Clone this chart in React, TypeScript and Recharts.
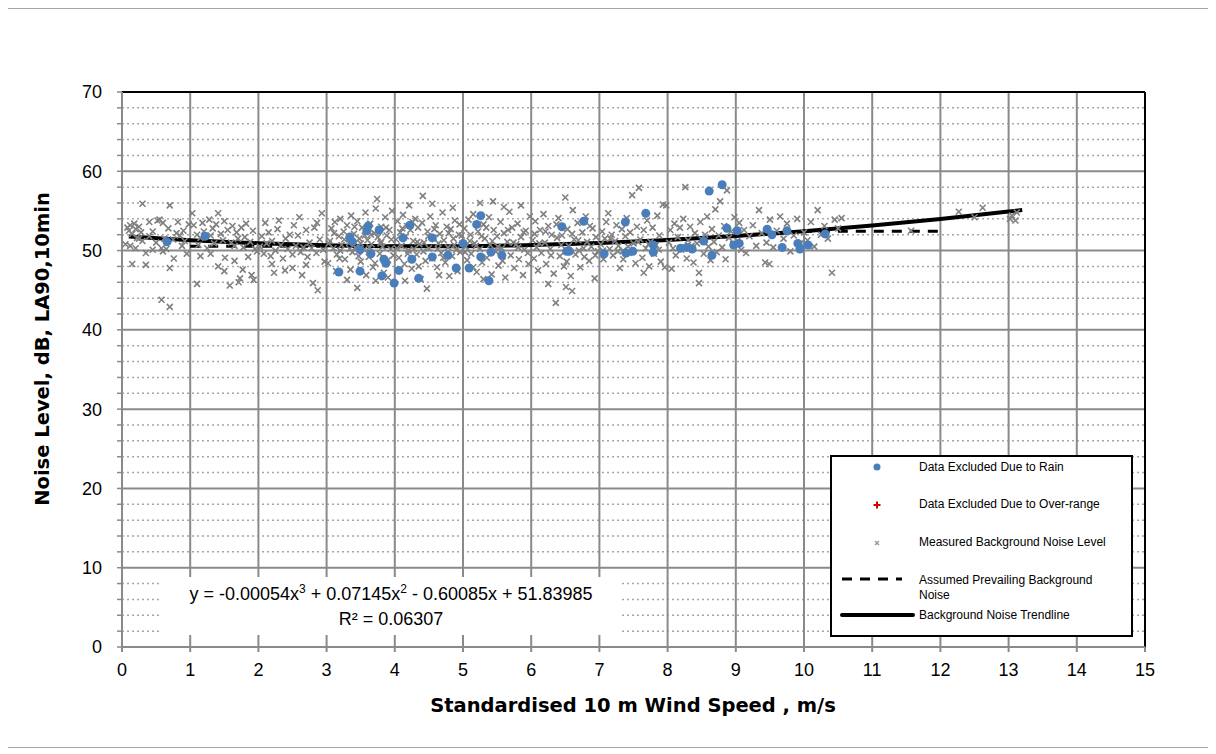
import React from "react";
import {
  ComposedChart,
  Scatter,
  Line,
  XAxis,
  YAxis,
  CartesianGrid,
  ReferenceLine,
} from "recharts";

// wind speed (m/s), LA90 (dB)
const measuredPoints: [number, number][] = [
  [0.08, 52.9], [0.1, 52.5], [0.12, 53.2], [0.15, 52.1], [0.18, 53.4], [0.2, 52.7], [0.22, 51.6], [0.25, 53.0],
  [0.28, 52.3], [0.3, 51.2], [0.05, 50.8], [0.12, 50.6], [0.3, 55.9], [0.15, 48.3], [0.35, 48.2], [0.4, 51.8],
  [0.45, 52.4], [0.5, 51.0], [0.52, 53.8], [0.55, 53.9], [0.58, 50.3], [0.6, 49.9], [0.62, 51.5], [0.65, 50.2],
  [0.68, 52.8], [0.7, 55.7], [0.7, 47.8], [0.75, 51.4], [0.76, 49.0], [0.8, 52.2], [0.82, 53.6], [0.85, 51.9],
  [0.88, 50.6], [0.9, 52.5], [0.92, 51.2], [0.95, 49.6], [0.98, 53.3], [0.58, 43.8], [0.7, 42.9], [0.45, 50.1],
  [0.35, 49.7], [0.2, 50.3], [0.4, 53.6], [0.6, 53.5], [0.25, 51.5],
  [1.03, 54.7], [1.05, 53.2], [1.1, 52.0], [1.12, 50.7], [1.15, 51.6], [1.18, 53.5], [1.2, 52.4], [1.25, 50.3],
  [1.28, 53.9], [1.3, 51.9], [1.33, 52.8], [1.35, 50.9], [1.38, 53.3], [1.41, 54.7], [1.41, 48.0], [1.45, 52.1],
  [1.48, 51.3], [1.5, 53.7], [1.51, 49.1], [1.55, 52.6], [1.58, 45.6], [1.6, 51.0], [1.62, 53.1], [1.65, 50.6],
  [1.68, 52.3], [1.7, 51.5], [1.73, 46.5], [1.75, 52.9], [1.78, 50.4], [1.8, 51.7], [1.82, 53.4], [1.85, 49.2],
  [1.88, 51.1], [1.9, 46.9], [1.92, 52.5], [1.95, 50.2], [1.98, 49.9], [1.1, 45.8], [1.5, 47.4], [1.65, 48.7],
  [1.3, 49.6], [1.15, 49.3], [1.77, 47.6], [1.71, 46.0], [1.93, 46.3],
  [2.02, 50.5], [2.05, 51.8], [2.08, 49.6], [2.1, 53.5], [2.12, 50.9], [2.15, 52.3], [2.18, 49.3], [2.2, 51.2],
  [2.23, 47.2], [2.25, 50.0], [2.28, 52.7], [2.3, 53.8], [2.33, 50.7], [2.36, 49.0], [2.39, 47.5], [2.4, 51.5],
  [2.43, 50.2], [2.46, 52.0], [2.5, 49.5], [2.52, 53.2], [2.55, 50.6], [2.58, 51.9], [2.6, 54.2], [2.62, 49.8],
  [2.64, 46.9], [2.66, 50.4], [2.7, 52.6], [2.72, 49.2], [2.75, 51.0], [2.78, 50.3], [2.8, 45.9], [2.82, 52.9],
  [2.85, 49.7], [2.87, 45.0], [2.9, 51.4], [2.93, 54.7], [2.95, 50.1], [2.97, 48.6], [2.5, 47.8], [2.7, 48.2],
  [2.2, 48.3], [2.86, 53.5],
  [3.02, 48.4], [3.05, 51.2], [3.07, 52.8], [3.1, 50.3], [3.12, 53.6], [3.15, 49.5], [3.18, 51.8], [3.2, 54.0],
  [3.22, 50.7], [3.25, 52.4], [3.27, 48.9], [3.3, 46.3], [3.3, 53.2], [3.33, 51.0], [3.36, 54.4], [3.38, 49.8],
  [3.4, 52.1], [3.42, 50.4], [3.45, 45.3], [3.45, 53.7], [3.48, 51.5], [3.5, 48.6], [3.52, 52.9], [3.55, 50.1],
  [3.57, 54.8], [3.6, 51.3], [3.62, 49.2], [3.64, 53.4], [3.66, 50.8], [3.68, 47.9], [3.7, 52.2], [3.72, 55.3],
  [3.74, 56.5], [3.75, 51.7], [3.78, 49.6], [3.8, 53.0], [3.82, 50.5], [3.84, 47.2], [3.86, 54.2], [3.88, 51.9],
  [3.9, 48.8], [3.92, 52.6], [3.94, 50.2], [3.96, 55.0], [3.98, 49.4], [3.35, 47.6], [3.58, 46.9], [3.14, 47.4],
  [3.72, 46.2], [3.9, 46.6], [3.2, 50.0], [3.5, 50.9], [3.8, 51.1], [3.65, 52.0],
  [3.03, 50.9], [3.11, 52.2], [3.19, 49.0], [3.26, 51.4], [3.34, 50.2], [3.41, 53.0], [3.47, 49.3], [3.56, 51.9],
  [3.63, 50.4], [3.71, 48.4], [3.79, 50.9], [3.87, 52.9], [3.95, 51.4],
  [4.02, 51.4], [4.04, 53.7], [4.06, 49.1], [4.08, 52.3], [4.1, 50.6], [4.12, 54.5], [4.14, 48.3], [4.16, 51.8],
  [4.18, 53.1], [4.2, 50.0], [4.21, 55.7], [4.23, 52.6], [4.25, 47.7], [4.27, 51.2], [4.3, 54.0], [4.32, 49.5],
  [4.34, 52.9], [4.36, 50.8], [4.38, 46.4], [4.4, 53.5], [4.41, 56.9], [4.43, 51.0], [4.45, 48.7], [4.47, 45.2],
  [4.48, 52.4], [4.5, 50.3], [4.52, 54.3], [4.55, 49.0], [4.57, 51.6], [4.6, 53.2], [4.62, 47.9], [4.64, 50.9],
  [4.66, 52.1], [4.68, 49.7], [4.7, 54.8], [4.72, 51.3], [4.74, 48.5], [4.76, 53.0], [4.78, 50.4], [4.8, 46.8],
  [4.82, 52.7], [4.84, 49.3], [4.86, 51.5], [4.88, 53.8], [4.9, 50.1], [4.92, 47.4], [4.94, 52.0], [4.96, 49.8],
  [4.98, 51.9], [4.15, 46.2], [4.35, 48.0], [4.65, 46.9], [4.85, 55.4], [4.55, 55.9], [4.28, 50.2],
  [4.03, 50.3], [4.11, 52.8], [4.19, 49.6], [4.26, 53.6], [4.33, 51.1], [4.42, 49.9], [4.49, 51.8], [4.58, 52.7],
  [4.63, 50.2], [4.71, 49.1], [4.79, 52.2], [4.87, 50.7], [4.95, 53.3],
  [5.02, 52.8], [5.04, 50.5], [5.06, 48.8], [5.08, 53.9], [5.1, 51.2], [5.12, 49.6], [5.15, 54.6], [5.17, 50.9],
  [5.2, 47.3], [5.22, 52.4], [5.25, 56.0], [5.25, 50.2], [5.28, 48.5], [5.3, 53.3], [5.32, 51.5], [5.35, 49.1],
  [5.38, 54.2], [5.4, 50.7], [5.42, 47.0], [5.44, 56.2], [5.45, 52.6], [5.48, 49.9], [5.5, 51.8], [5.52, 48.1],
  [5.55, 53.6], [5.57, 50.3], [5.6, 52.2], [5.62, 46.6], [5.65, 51.1], [5.68, 54.9], [5.7, 49.4], [5.72, 52.9],
  [5.75, 47.8], [5.78, 50.8], [5.8, 53.4], [5.82, 48.9], [5.85, 51.7], [5.88, 46.9], [5.9, 50.1], [5.92, 52.5],
  [5.95, 49.7], [5.98, 54.3], [5.3, 46.4], [5.6, 55.5], [5.85, 55.7], [5.15, 47.9],
  [5.03, 49.8], [5.11, 52.0], [5.19, 50.6], [5.27, 51.8], [5.34, 52.9], [5.43, 51.2], [5.51, 50.5], [5.58, 48.7],
  [5.66, 52.6], [5.74, 51.0], [5.81, 50.4], [5.89, 52.3], [5.96, 48.3],
  [6.02, 51.3], [6.04, 49.0], [6.06, 53.7], [6.08, 50.4], [6.1, 47.5], [6.13, 52.6], [6.15, 49.7], [6.18, 54.6],
  [6.2, 51.0], [6.22, 48.3], [6.25, 53.1], [6.28, 50.2], [6.3, 52.0], [6.33, 47.1], [6.36, 43.4], [6.38, 51.6],
  [6.4, 54.1], [6.42, 49.3], [6.45, 51.9], [6.48, 48.0], [6.5, 56.7], [6.51, 45.4], [6.53, 52.7], [6.55, 50.6],
  [6.58, 46.8], [6.61, 55.1], [6.63, 51.4], [6.65, 49.5], [6.68, 53.5], [6.7, 50.0], [6.72, 47.9], [6.75, 52.3],
  [6.78, 49.2], [6.8, 54.3], [6.82, 51.1], [6.85, 48.7], [6.88, 50.5], [6.9, 52.8], [6.93, 46.5], [6.95, 51.7],
  [6.98, 49.9], [6.25, 45.8], [6.6, 44.9],
  [6.05, 52.1], [6.12, 50.9], [6.21, 52.4], [6.29, 49.4], [6.37, 53.3], [6.44, 50.7], [6.52, 48.6], [6.6, 52.1],
  [6.69, 51.3], [6.77, 50.3], [6.86, 53.1], [6.94, 49.4],
  [7.02, 50.8], [7.04, 52.4], [7.06, 48.9], [7.08, 51.5], [7.1, 53.6], [7.13, 54.7], [7.15, 50.2], [7.18, 52.0],
  [7.2, 49.4], [7.23, 51.2], [7.25, 53.2], [7.28, 50.6], [7.3, 47.8], [7.33, 52.7], [7.35, 50.0], [7.38, 51.8],
  [7.4, 54.1], [7.43, 49.7], [7.45, 52.3], [7.48, 57.0], [7.5, 50.9], [7.53, 48.4], [7.55, 53.0], [7.58, 57.9],
  [7.6, 51.4], [7.63, 49.1], [7.65, 52.6], [7.68, 50.3], [7.7, 53.8], [7.73, 48.0], [7.75, 51.1], [7.78, 52.9],
  [7.8, 49.6], [7.83, 50.7], [7.85, 54.4], [7.88, 51.9], [7.9, 48.6], [7.93, 55.8], [7.96, 47.9], [7.98, 55.7],
  [7.35, 48.9], [7.65, 47.2],
  [7.05, 50.0], [7.16, 51.5], [7.27, 49.9], [7.42, 50.5], [7.57, 51.1], [7.72, 50.8], [7.87, 50.1],
  [8.02, 51.0], [8.04, 52.6], [8.06, 47.7], [8.08, 50.3], [8.1, 53.4], [8.12, 49.4], [8.15, 51.7], [8.18, 52.9],
  [8.2, 50.1], [8.23, 54.0], [8.26, 58.0], [8.28, 49.0], [8.3, 51.3], [8.33, 53.0], [8.35, 50.6], [8.38, 48.5],
  [8.4, 52.2], [8.43, 50.9], [8.46, 47.2], [8.46, 45.9], [8.48, 53.6], [8.5, 51.4], [8.53, 49.6], [8.55, 52.0],
  [8.58, 54.3], [8.6, 50.5], [8.63, 48.8], [8.65, 52.7], [8.68, 51.1], [8.7, 55.2], [8.72, 49.8], [8.75, 51.9],
  [8.77, 56.2], [8.8, 50.4], [8.83, 53.1], [8.85, 48.9], [8.87, 57.6], [8.9, 51.6], [8.93, 52.4], [8.96, 50.8],
  [8.98, 54.2],
  [9.02, 51.2], [9.05, 53.5], [9.08, 50.1], [9.12, 52.6], [9.15, 49.7], [9.2, 51.8], [9.25, 53.2], [9.3, 50.6],
  [9.34, 55.1], [9.38, 52.2], [9.43, 48.5], [9.49, 48.3], [9.45, 51.0], [9.5, 53.9], [9.55, 50.4], [9.6, 52.5],
  [9.65, 54.3], [9.7, 51.5], [9.75, 53.4], [9.8, 49.9], [9.85, 51.9], [9.9, 54.0], [9.95, 50.9], [10.0, 52.3],
  [10.05, 51.3], [10.1, 53.6], [10.15, 50.5], [10.2, 55.1], [10.25, 52.0], [10.3, 53.1], [10.35, 51.5],
  [10.41, 47.2], [10.45, 53.9], [10.5, 52.8], [10.55, 54.1],
  [11.57, 52.5], [12.27, 54.9], [12.5, 54.2], [12.62, 55.4], [13.02, 54.0], [13.05, 54.4], [13.12, 54.8],
  [13.1, 53.8],
];

const rainPoints: [number, number][] = [
  [0.66, 51.1], [1.22, 51.8], [3.18, 47.3], [3.34, 51.7], [3.38, 51.1], [3.49, 50.1], [3.49, 47.4], [3.59, 52.5],
  [3.61, 53.1], [3.65, 49.6], [3.77, 52.6], [3.81, 46.8], [3.84, 48.9], [3.87, 48.4], [3.99, 45.9], [4.06, 47.5],
  [4.12, 51.6], [4.22, 53.2], [4.25, 48.9], [4.35, 46.5], [4.55, 49.2], [4.55, 51.6], [4.78, 49.4], [4.9, 47.8],
  [5.0, 50.9], [5.09, 47.8], [5.2, 53.3], [5.26, 54.4], [5.26, 49.2], [5.38, 46.2], [5.41, 49.8], [5.57, 49.4],
  [6.45, 53.0], [6.52, 49.9], [6.56, 49.9], [6.77, 53.7], [7.07, 49.6], [7.38, 53.6], [7.39, 49.7], [7.49, 49.9],
  [7.68, 54.7], [7.79, 50.7], [7.79, 49.8], [8.19, 50.3], [8.28, 50.4], [8.36, 50.2], [8.53, 51.2], [8.61, 57.5],
  [8.65, 49.4], [8.8, 58.3], [8.87, 52.8], [9.02, 52.5], [8.97, 50.7], [9.05, 50.9], [9.46, 52.7], [9.53, 52.0],
  [9.68, 50.4], [9.75, 52.5], [9.91, 50.9], [9.94, 50.2], [10.06, 50.7], [10.31, 52.1],
];

const trendX = [0.1, 1, 2, 3, 4, 5, 6, 7, 8, 9, 10, 11, 12, 13, 13.2];
const trendY = [51.78, 51.31, 50.92, 50.67, 50.55, 50.55, 50.69, 50.95, 51.33, 51.83, 52.44, 53.16, 53.99, 54.92, 55.12];

const prevailingX = [1, 4.5, 5, 6, 7, 8, 9, 10, 12];
const prevailingY = [50.55, 50.55, 50.55, 50.69, 50.95, 51.33, 51.83, 52.44, 52.44];

const xTicks = [0, 1, 2, 3, 4, 5, 6, 7, 8, 9, 10, 11, 12, 13, 14, 15];
const yTicks = [0, 2, 4, 6, 8, 10, 12, 14, 16, 18, 20, 22, 24, 26, 28, 30, 32, 34, 36, 38, 40, 42, 44, 46, 48, 50, 52, 54, 56, 58, 60, 62, 64, 66, 68, 70];
const yMajor = [10, 20, 30, 40, 50, 60];
const yMinor = yTicks.filter((v) => v % 10 !== 0);

const measured = measuredPoints.map(([x, y]) => ({ x, y }));
const rain = rainPoints.map(([x, y]) => ({ x, y }));
const trend = trendX.map((x, i) => ({ x, y: trendY[i] }));
const prevailing = prevailingX.map((x, i) => ({ x, y: prevailingY[i] }));

const TICK_FONT = "'Liberation Sans', Arial, sans-serif";
const TITLE_FONT = "'DejaVu Sans', Verdana, sans-serif";
const GRID = "#8a8a8a";

const Cross = (p: any) => {
  const { cx, cy } = p;
  if (cx == null || cy == null) return <g />;
  const s = 3;
  return (
    <path
      d={`M${cx - s},${cy - s}L${cx + s},${cy + s}M${cx - s},${cy + s}L${cx + s},${cy - s}`}
      stroke="#808080"
      strokeWidth={1.6}
      fill="none"
    />
  );
};

const Dot = (p: any) => {
  const { cx, cy } = p;
  if (cx == null || cy == null) return <g />;
  return <circle cx={cx} cy={cy} r={4.5} fill="#4a7ebb" />;
};

const YTick = (props: any) => {
  const { x, y, payload } = props;
  if (payload.value % 10 !== 0) return <g />;
  return (
    <text x={x} y={y} dy="0.355em" textAnchor="end" fontSize={18} fill="#000" fontFamily={TICK_FONT}>
      {payload.value}
    </text>
  );
};

const LegendBox = () => {
  const rowText: React.CSSProperties = {
    position: "absolute",
    left: 87,
    fontSize: 12,
    lineHeight: "15px",
    color: "#000",
    fontFamily: TICK_FONT,
  };
  return (
    <div
      style={{
        position: "absolute",
        left: 823,
        top: 446,
        width: 303,
        height: 182,
        boxSizing: "border-box",
        border: "2px solid #000",
        background: "#fff",
      }}
    >
      <svg width={90} height={180} style={{ position: "absolute", left: 0, top: 0 }}>
        <circle cx={45} cy={10} r={3.5} fill="#4a7ebb" />
        <path d="M41.5,48H48.5M45,44.5V51.5" stroke="#d00000" strokeWidth={2} />
        <path d="M43,84L47,88M43,88L47,84" stroke="#999" strokeWidth={1.5} />
        <line x1={10} y1={122} x2={70} y2={122} stroke="#000" strokeWidth={3} strokeDasharray="10 8" />
        <line x1={10} y1={158} x2={81} y2={158} stroke="#000" strokeWidth={4} strokeLinecap="round" />
      </svg>
      <div style={{ ...rowText, top: 3 }}>Data Excluded Due to Rain</div>
      <div style={{ ...rowText, top: 40 }}>Data Excluded Due to Over-range</div>
      <div style={{ ...rowText, top: 78 }}>Measured Background Noise Level</div>
      <div style={{ ...rowText, top: 116, width: 200 }}>
        Assumed Prevailing Background
        <br />
        Noise
      </div>
      <div style={{ ...rowText, top: 151 }}>Background Noise Trendline</div>
    </div>
  );
};

const App = () => {
  return (
    <div
      style={{
        position: "relative",
        width: 1204,
        height: 740,
        marginLeft: -2,
        background: "#fff",
        border: "1px solid #a6a6a6",
        boxSizing: "border-box",
        overflow: "hidden",
      }}
    >
      <div style={{ position: "absolute", left: -1, top: -1 }}>
        <ComposedChart
          width={1204}
          height={740}
          margin={{ top: 84, right: 65, left: 40, bottom: 71 }}
        >
          <CartesianGrid
            horizontalValues={yMinor}
            vertical={false}
            stroke="#a6a6a6"
            strokeWidth={1.5}
            strokeDasharray="2 3"
          />
          <CartesianGrid horizontalValues={yMajor} verticalValues={xTicks} stroke={GRID} strokeWidth={2} />
          <XAxis
            dataKey="x"
            type="number"
            domain={[0, 15]}
            ticks={xTicks}
            interval={0}
            height={30}
            axisLine={{ stroke: GRID, strokeWidth: 2 }}
            tickLine={{ stroke: GRID, strokeWidth: 2 }}
            tickSize={5}
            tickMargin={11}
            tick={{ fontSize: 18, fill: "#000", fontFamily: TICK_FONT }}
          />
          <YAxis
            dataKey="y"
            type="number"
            domain={[0, 70]}
            ticks={yTicks}
            interval={0}
            width={76}
            axisLine={{ stroke: GRID, strokeWidth: 2 }}
            tickLine={{ stroke: GRID, strokeWidth: 1.5 }}
            tickSize={5}
            tickMargin={15}
            tick={<YTick />}
          />
          <ReferenceLine y={70} stroke="#000" strokeWidth={2} />
          <ReferenceLine x={15} stroke="#000" strokeWidth={2} />
          <Scatter data={measured} shape={<Cross />} isAnimationActive={false} />
          <Scatter data={rain} shape={<Dot />} isAnimationActive={false} />
          <Line
            data={prevailing}
            dataKey="y"
            type="linear"
            stroke="#000"
            strokeWidth={3}
            strokeDasharray="10 8"
            dot={false}
            activeDot={false}
            isAnimationActive={false}
          />
          <Line
            data={trend}
            dataKey="y"
            type="monotone"
            stroke="#000"
            strokeWidth={4}
            dot={false}
            activeDot={false}
            isAnimationActive={false}
          />
        </ComposedChart>
      </div>

      {/* trendline equation */}
      <div
        style={{
          position: "absolute",
          left: 153,
          top: 568,
          width: 462,
          height: 58,
          background: "#fff",
          textAlign: "center",
          fontFamily: TICK_FONT,
          fontSize: 18,
          lineHeight: "25px",
          color: "#000",
          paddingTop: 5,
          boxSizing: "border-box",
        }}
      >
        <div>
          y = -0.00054x<sup style={{ fontSize: 12, verticalAlign: "7px", lineHeight: 0 }}>3</sup> + 0.07145x
          <sup style={{ fontSize: 12, verticalAlign: "7px", lineHeight: 0 }}>2</sup> - 0.60085x + 51.83985
        </div>
        <div>R² = 0.06307</div>
      </div>

      <LegendBox />

      {/* axis titles */}
      <div
        style={{
          position: "absolute",
          left: 35,
          top: 340,
          transform: "translate(-50%, -50%) rotate(-90deg)",
          whiteSpace: "nowrap",
          fontFamily: TITLE_FONT,
          fontWeight: "bold",
          fontSize: 19.5,
          color: "#000",
        }}
      >
        Noise Level, dB, LA90,10min
      </div>
      <div
        style={{
          position: "absolute",
          left: 626,
          top: 696,
          transform: "translate(-50%, -50%)",
          whiteSpace: "nowrap",
          fontFamily: TITLE_FONT,
          fontWeight: "bold",
          fontSize: 19.5,
          color: "#000",
        }}
      >
        Standardised 10 m Wind Speed , m/s
      </div>
    </div>
  );
};

export default App;
